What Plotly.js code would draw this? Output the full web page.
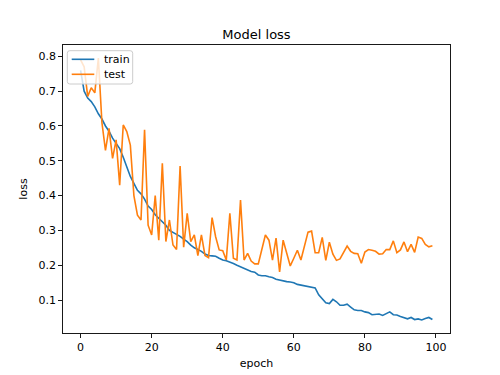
<!DOCTYPE html>
<html>
<head>
<meta charset="utf-8">
<script src="https://cdn.plot.ly/plotly-3.0.1.min.js"></script>
<style>
  html, body { margin: 0; padding: 0; background: #fff; }
  #chart { width: 500px; height: 375px; }
</style>
</head>
<body>
<div id="chart"></div>
<script>
const epochs = Array.from({length: 100}, (_, i) => i);

const trainLoss = [
  0.760, 0.700, 0.680, 0.670, 0.655, 0.635, 0.620, 0.600, 0.585, 0.565,
  0.550, 0.535, 0.510, 0.480, 0.455, 0.435, 0.415, 0.405, 0.390, 0.370,
  0.360, 0.345, 0.335, 0.325, 0.315, 0.300, 0.295, 0.290, 0.283, 0.275,
  0.268, 0.258, 0.250, 0.245, 0.240, 0.232, 0.228, 0.227, 0.226, 0.220,
  0.215, 0.213, 0.210, 0.205, 0.200, 0.195, 0.190, 0.187, 0.182, 0.180,
  0.172, 0.170, 0.170, 0.167, 0.165, 0.160, 0.157, 0.155, 0.153, 0.152,
  0.150, 0.145, 0.143, 0.143, 0.140, 0.138, 0.135, 0.115, 0.105, 0.092,
  0.090, 0.102, 0.095, 0.085, 0.085, 0.088, 0.080, 0.072, 0.070, 0.070,
  0.066, 0.064, 0.058, 0.060, 0.060, 0.056, 0.060, 0.066, 0.058, 0.057,
  0.053, 0.050, 0.046, 0.050, 0.044, 0.046, 0.043, 0.047, 0.050, 0.044
];

const testLoss = [
  0.790, 0.770, 0.685, 0.710, 0.695, 0.795, 0.610, 0.530, 0.593, 0.507,
  0.560, 0.430, 0.603, 0.584, 0.545, 0.400, 0.344, 0.330, 0.589, 0.315,
  0.287, 0.400, 0.272, 0.493, 0.268, 0.330, 0.258, 0.245, 0.485, 0.252,
  0.349, 0.268, 0.287, 0.228, 0.287, 0.228, 0.222, 0.337, 0.282, 0.244,
  0.242, 0.215, 0.349, 0.220, 0.215, 0.387, 0.215, 0.234, 0.212, 0.204,
  0.204, 0.245, 0.287, 0.272, 0.215, 0.278, 0.181, 0.272, 0.234, 0.198,
  0.220, 0.243, 0.215, 0.258, 0.295, 0.298, 0.236, 0.236, 0.280, 0.214,
  0.266, 0.232, 0.214, 0.218, 0.236, 0.255, 0.240, 0.234, 0.233, 0.206,
  0.238, 0.245, 0.243, 0.240, 0.232, 0.233, 0.245, 0.245, 0.270, 0.236,
  0.244, 0.267, 0.239, 0.260, 0.237, 0.281, 0.277, 0.260, 0.253, 0.256
];

const seriesNames = ["train", "test"];
const seriesColors = ["#1f77b4", "#ff7f0e"];

const xTicks = [0, 20, 40, 60, 80, 100];
const yTicks = [0.1, 0.2, 0.3, 0.4, 0.5, 0.6, 0.7, 0.8];

const font = "DejaVu Sans, sans-serif";

// plot-area geometry in pixels (used only to place the legend box)
const W = 500, H = 375;
const M = {l: 63, r: 50, t: 45, b: 42};
const PW = W - M.l - M.r, PH = H - M.t - M.b;
const px = x => (x - M.l) / PW;
const py = y => (H - M.b - y) / PH;

const traces = [trainLoss, testLoss].map((vals, i) => ({
  x: epochs, y: vals, name: seriesNames[i], type: "scatter", mode: "lines",
  line: {color: seriesColors[i], width: 1.6}, showlegend: false
}));

// legend (matplotlib-style, upper left)
const bx0 = 67.3, bx1 = 132.7, by0 = 50.7, by1 = 84, r = 2.5;
const rx = r / PW, ry = r / PH;
const X0 = px(bx0), X1 = px(bx1), Y0 = py(by0), Y1 = py(by1);
const boxPath = `M ${X0 + rx} ${Y0} L ${X1 - rx} ${Y0} Q ${X1} ${Y0} ${X1} ${Y0 - ry} ` +
  `L ${X1} ${Y1 + ry} Q ${X1} ${Y1} ${X1 - rx} ${Y1} L ${X0 + rx} ${Y1} Q ${X0} ${Y1} ${X0} ${Y1 + ry} ` +
  `L ${X0} ${Y0 - ry} Q ${X0} ${Y0} ${X0 + rx} ${Y0} Z`;

const legendRows = [59.3, 74.3];
const shapes = [{
  type: "path", path: boxPath, xref: "paper", yref: "paper", layer: "above",
  fillcolor: "rgba(255,255,255,0.8)", line: {color: "#cccccc", width: 1}
}];
const annotations = [];
seriesNames.forEach((name, i) => {
  shapes.push({type: "line", xref: "paper", yref: "paper", layer: "above",
    x0: px(71.7), x1: px(94.3), y0: py(legendRows[i]), y1: py(legendRows[i]),
    line: {color: seriesColors[i], width: 1.6}});
  annotations.push({text: name, xref: "paper", yref: "paper", showarrow: false,
    x: px(101.5), y: py(legendRows[i]), xanchor: "left", yanchor: "middle",
    font: {family: font, size: 11, color: "#000"}});
});

const axisCommon = {
  showgrid: false, zeroline: false,
  showline: true, linecolor: "#000", linewidth: 0.9, mirror: true,
  ticks: "outside", ticklen: 4, tickwidth: 0.9, tickcolor: "#000",
  tickfont: {family: font, size: 11, color: "#000"}
};

const layout = {
  width: W, height: H,
  margin: {l: M.l, r: M.r, t: M.t, b: M.b, pad: 0},
  paper_bgcolor: "#fff", plot_bgcolor: "#fff",
  font: {family: font, size: 11, color: "#000"},
  title: {text: "Model loss", font: {family: font, size: 13, color: "#000"},
          x: 0.513, xref: "container", xanchor: "center", y: 1 - 34/375, yref: "container", yanchor: "middle"},
  xaxis: Object.assign({}, axisCommon, {
    range: [-4.95, 103.95], tickvals: xTicks, ticktext: xTicks.map(String),
    title: {text: "epoch", font: {family: font, size: 11, color: "#000"}, standoff: 6}
  }),
  yaxis: Object.assign({}, axisCommon, {
    range: [0.0054, 0.8326], tickvals: yTicks, ticktext: yTicks.map(v => v.toFixed(1)),
    title: {text: "loss", font: {family: font, size: 11, color: "#000"}, standoff: 8}
  }),
  showlegend: false,
  shapes: shapes,
  annotations: annotations,
  hovermode: false
};

Plotly.newPlot("chart", traces, layout, {staticPlot: true, displayModeBar: false});
</script>
</body>
</html>
